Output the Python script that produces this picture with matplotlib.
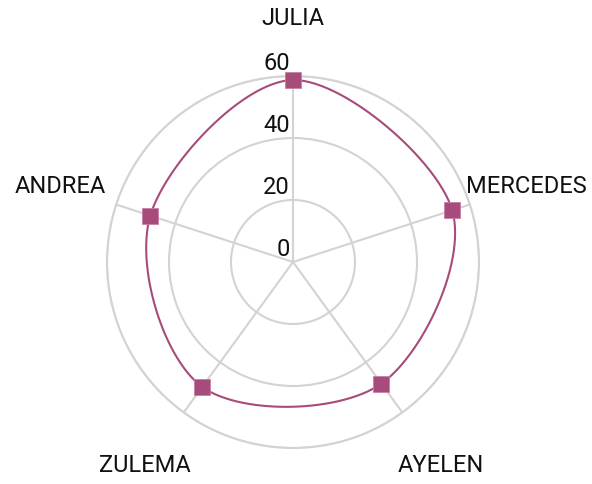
import numpy as np
import matplotlib
matplotlib.use("Agg")
import matplotlib.pyplot as plt
import matplotlib.transforms as mtransforms

# data
names = ["JULIA", "MERCEDES", "AYELEN", "ZULEMA", "ANDREA"]
values = [58.7, 54.0, 48.5, 49.8, 48.4]
rticks = [0, 20, 40, 60]

plt.rcParams['font.family'] = ['Roboto', 'DejaVu Sans']

col = '#a64b7b'
grey = '#d3d3d3'
txt = '#111111'

fig = plt.figure(figsize=(5.92, 4.84), dpi=100)
w = 2 * 186 / 592
h = 2 * 186 / 484
cx = 293 / 592
cy = (484 - 262) / 484
ax = fig.add_axes([cx - w / 2, cy - h / 2, w, h], projection='polar')
ax.set_theta_zero_location('N')
ax.set_theta_direction(-1)
ax.set_ylim(0, 60)

n = len(names)
theta = np.arange(n) * 2 * np.pi / n

# grid
ax.set_xticks(theta)
ax.set_xticklabels([])
ax.set_yticks(rticks[1:])
ax.set_yticklabels([])
ax.grid(color=grey, linewidth=1.5)
ax.spines['polar'].set_color(grey)
ax.spines['polar'].set_linewidth(1.5)
ax.tick_params(length=0)

# smooth closed curve (catmull-rom in cartesian)
v = np.array(values)
px = v * np.sin(theta)
py = v * np.cos(theta)
xs, ys = [], []
tt = np.linspace(0, 1, 60, endpoint=False)
for i in range(n):
    p0 = np.array([px[i - 1], py[i - 1]])
    p1 = np.array([px[i], py[i]])
    p2 = np.array([px[(i + 1) % n], py[(i + 1) % n]])
    p3 = np.array([px[(i + 2) % n], py[(i + 2) % n]])
    for t in tt:
        t2, t3 = t * t, t * t * t
        pt = 0.5 * ((2 * p1) + (-p0 + p2) * t + (2 * p0 - 5 * p1 + 4 * p2 - p3) * t2
                    + (-p0 + 3 * p1 - 3 * p2 + p3) * t3)
        xs.append(pt[0])
        ys.append(pt[1])
xs.append(xs[0])
ys.append(ys[0])
xs = np.array(xs)
ys = np.array(ys)
ct = np.unwrap(np.arctan2(xs, ys))
cr = np.hypot(xs, ys)
ax.plot(ct, cr, color=col, linewidth=1.5, zorder=3)
ax.plot(theta, values, linestyle='none', marker='s', markersize=11.5,
        color=col, mec='#c77fa3', mew=0.6, zorder=4, clip_on=False)

# radial labels
off = mtransforms.offset_copy(ax.transData, fig=fig, x=-3, y=1, units='dots')
for r in rticks:
    ax.text(0, r, str(r), transform=off, ha='right', va='bottom', fontsize=17, color=txt)

# category labels
for th, nm in zip(theta, names):
    if np.cos(th) > 0.9:
        rr = 78.5
    elif np.cos(th) < 0:
        rr = 81.2
    else:
        rr = 79
    ax.text(th, rr, nm, ha='center', va='center', fontsize=17, color=txt, clip_on=False)

fig.savefig('out.png', dpi=100)
